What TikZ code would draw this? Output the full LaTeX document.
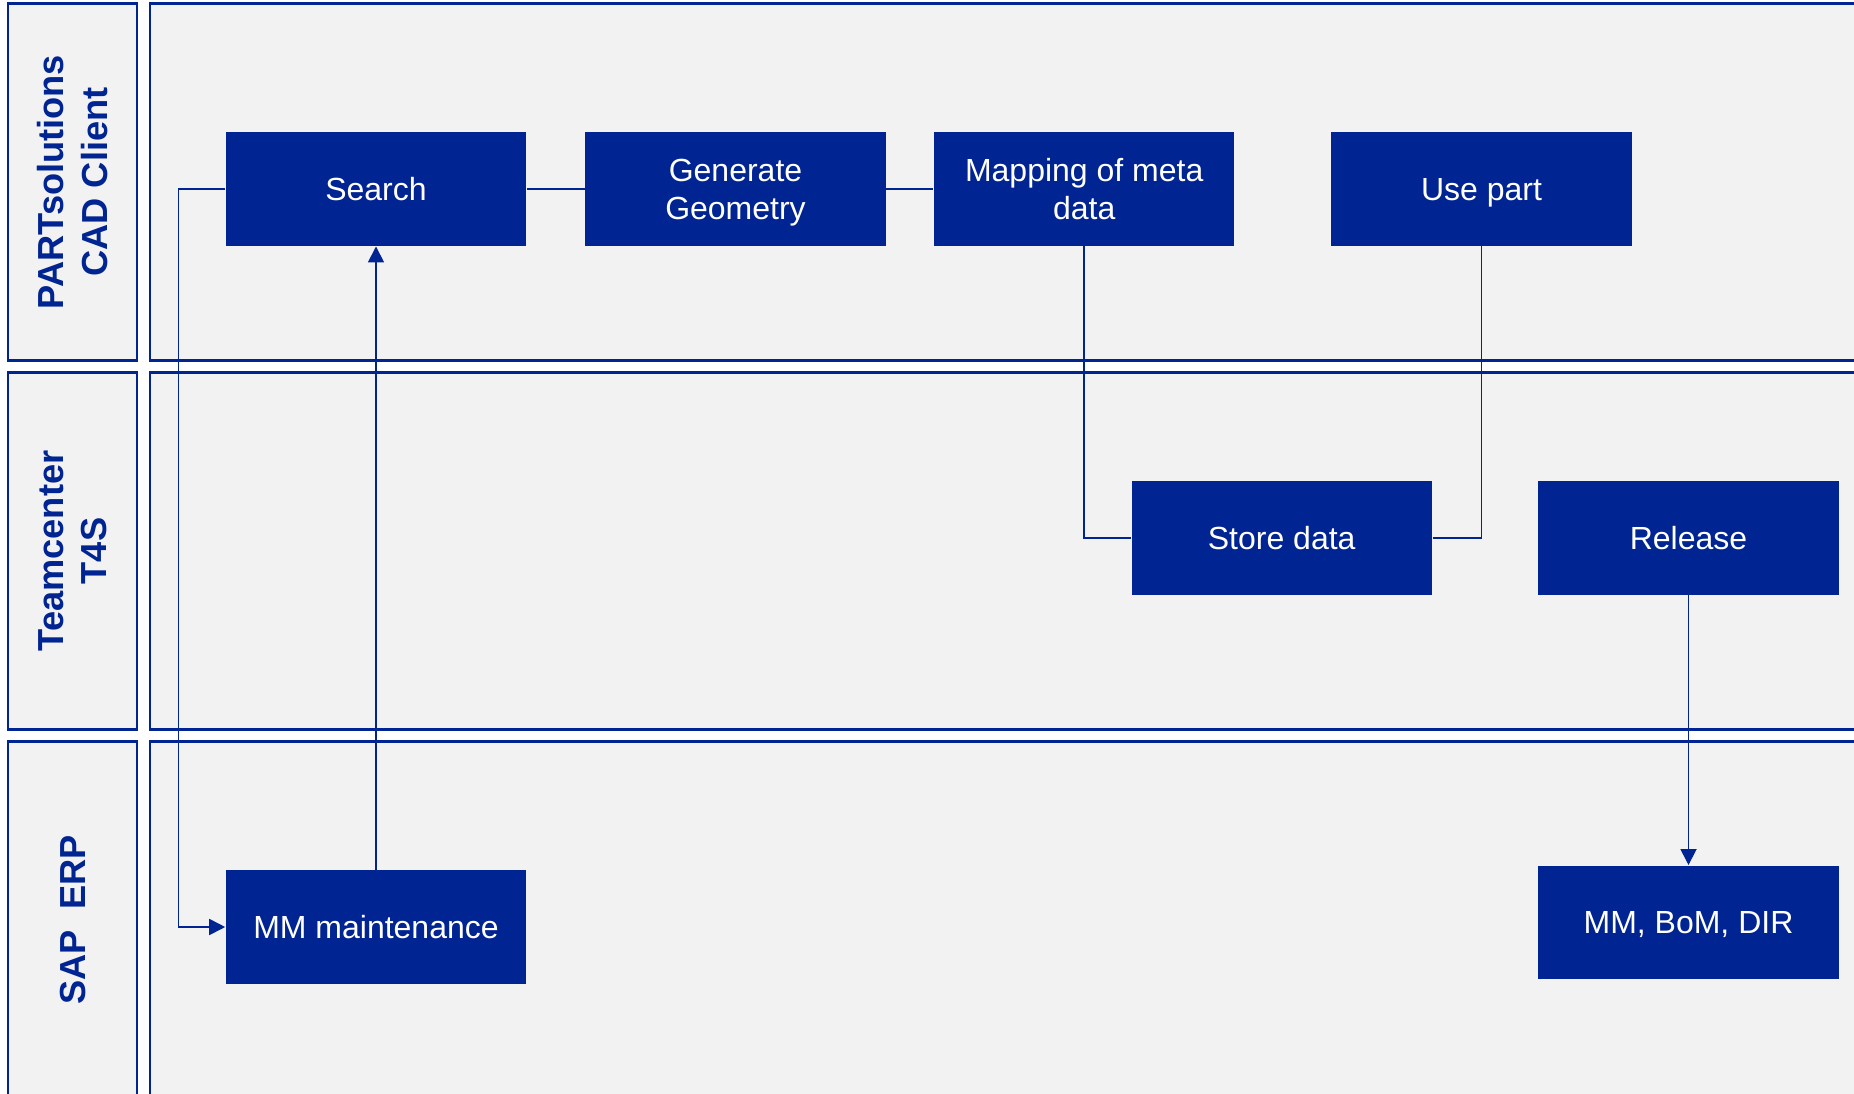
\documentclass[tikz,border=0pt]{standalone}
\usepackage{fontspec}
\setmainfont{Liberation Sans}
\usetikzlibrary{arrows.meta}
\definecolor{laneblue}{RGB}{0,36,145}
\definecolor{lanegray}{RGB}{242,242,242}
\tikzset{
  lane/.style={draw=laneblue, fill=lanegray, line width=0.6pt},
  lanetitle/.style={rotate=90, text=laneblue, align=center,
    font=\fontsize{10.3}{12.5}\selectfont\bfseries},
  task/.style={fill=laneblue, text=white, align=center, inner sep=0pt,
    minimum width=3cm, minimum height=1.135cm, text depth=0pt,
    font=\fontsize{9.1}{10.8}\selectfont},
  link/.style={draw=laneblue, line width=0.5pt},
  flow/.style={link, -{Triangle[length=0.16cm,width=0.16cm]}}
}

\begin{document}
\begin{tikzpicture}[x=0.01cm,y=-0.01cm]
\newcommand{\lanetop}{3.5}
\newcommand{\laneh}{357}
\newcommand{\lanegap}{369}
\useasboundingbox (0,0) rectangle (1854,1094);
\clip (0,0) rectangle (1854,1094);

\draw[lane] (8.3,\lanetop) rectangle (137.2,\lanetop+\laneh);
\draw[lane] (150.2,\lanetop) rectangle (1870,\lanetop+\laneh);
\draw[lane] (8.3,\lanetop+\lanegap) rectangle (137.2,\lanetop+\lanegap+\laneh);
\draw[lane] (150.2,\lanetop+\lanegap) rectangle (1870,\lanetop+\lanegap+\laneh);
\draw[lane] (8.3,\lanetop+2*\lanegap) rectangle (137.2,\lanetop+2*\lanegap+\laneh);
\draw[lane] (150.2,\lanetop+2*\lanegap) rectangle (1870,\lanetop+2*\lanegap+\laneh);

\node[lanetitle] (partsol) at (72.7,\lanetop+\laneh/2) {PARTsolutions\\CAD Client};
\node[lanetitle] (teamc) at (72.7,\lanetop+\lanegap+\laneh/2) {Teamcenter\\T4S};
\node[lanetitle] (sap) at (72.7,\lanetop+2*\lanegap+\laneh/2) {SAP~~ERP};

\node[task] (search) at (376,189) {Search};
\node[task] (geometry) at (735.5,189) {Generate\\Geometry};
\node[task] (mapping) at (1084.2,189) {Mapping of meta\\data};
\node[task] (usepart) at (1481.5,189) {Use part};
\node[task] (store) at (1281.7,538) {Store data};
\node[task] (release) at (1688.5,538) {Release};
\node[task] (mmmaint) at (376,927) {MM maintenance};
\node[task] (mmbom) at (1688.5,922.5) {MM, BoM, DIR};

\coordinate (back) at (178.5,189);
\draw[flow] (search.west) -- (back) |- (mmmaint.west);
\draw[flow] (mmmaint.north) -- (search.south);
\draw[link] (search) -- (geometry);
\draw[link] (geometry) -- (mapping);
\draw[link] (mapping.south) |- (store.west);
\draw[link] (store.east) -| (usepart.south);
\draw[flow] (release.south) -- (mmbom.north);
\end{tikzpicture}
\end{document}
